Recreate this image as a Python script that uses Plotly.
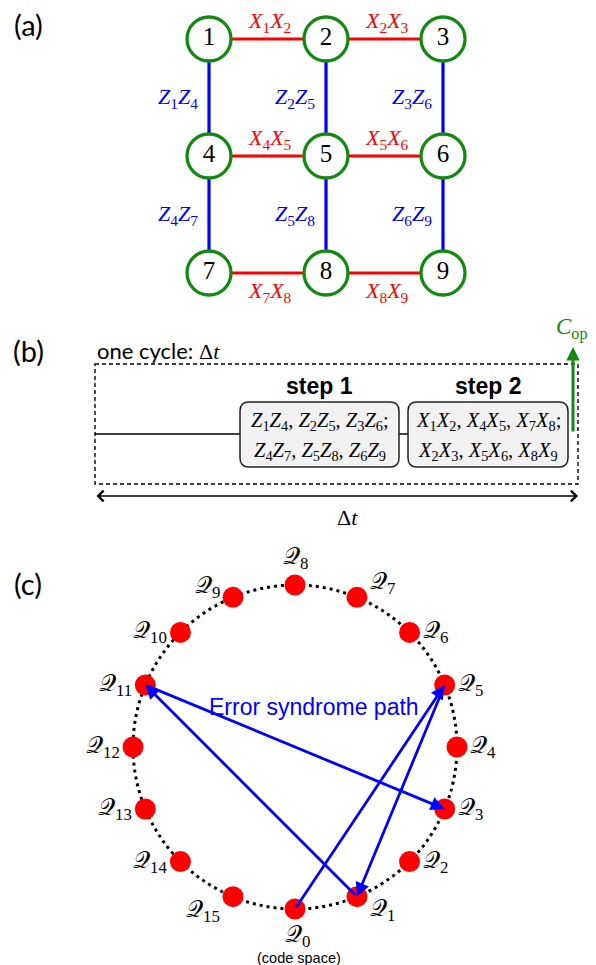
import math
import plotly.graph_objects as go

# ---------------- data ----------------
node_ids = [1, 2, 3, 4, 5, 6, 7, 8, 9]
node_rows = [0, 0, 0, 1, 1, 1, 2, 2, 2]
node_cols = [0, 1, 2, 0, 1, 2, 0, 1, 2]
x_edges = [(1, 2), (2, 3), (4, 5), (5, 6), (7, 8), (8, 9)]
z_edges = [(1, 4), (2, 5), (3, 6), (4, 7), (5, 8), (6, 9)]
step_titles = ["step 1", "step 2"]
step1_ops = [[("Z", 1, 4), ("Z", 2, 5), ("Z", 3, 6)], [("Z", 4, 7), ("Z", 5, 8), ("Z", 6, 9)]]
step2_ops = [[("X", 1, 2), ("X", 4, 5), ("X", 7, 8)], [("X", 2, 3), ("X", 5, 6), ("X", 8, 9)]]
q_states = list(range(16))
syndrome_path = [0, 5, 1, 11, 3]

# ---------------- layout constants ----------------
W, H = 596, 965
RED, BLUE, GREEN = "#ff0000", "#0000ff", "#128a12"
SERIF = "Liberation Serif"
SANS = "Liberation Sans"
CAL = "Lato"
col_x = [209, 326, 443]
row_y = [39, 156, 273]

fig = go.Figure()
shapes = []
ann = []


def op(p, a, b):
    return f"<i>{p}</i><sub>{a}</sub><i>{p}</i><sub>{b}</sub>"


def pos(n):
    i = node_ids.index(n)
    return col_x[node_cols[i]], row_y[node_rows[i]]


def text(x, y, t, size, color="black", family=SERIF, xa="center", ya="middle"):
    ann.append(dict(x=x, y=y, xref="x", yref="y", text=t, showarrow=False,
                    xanchor=xa, yanchor=ya, font=dict(size=size, color=color, family=family)))


# ---------------- panel (a) ----------------
text(28, 24, "(a)", 29, family=CAL)
for a, b in x_edges:
    (x0, y0), (x1, y1) = pos(a), pos(b)
    fig.add_trace(go.Scatter(x=[x0, x1], y=[y0, y1], mode="lines",
                             line=dict(color=RED, width=3.2), hoverinfo="skip"))
    r = node_rows[node_ids.index(a)]
    dy = 19 if r == 2 else -17
    text((x0 + x1) / 2 + 2, y0 + dy, op("X", a, b), 22, RED)
for a, b in z_edges:
    (x0, y0), (x1, y1) = pos(a), pos(b)
    fig.add_trace(go.Scatter(x=[x0, x1], y=[y0, y1], mode="lines",
                             line=dict(color=BLUE, width=3.2), hoverinfo="skip"))
    text(x0 - 9, (y0 + y1) / 2, op("Z", a, b), 22, BLUE, xa="right")
fig.add_trace(go.Scatter(
    x=[col_x[c] for c in node_cols], y=[row_y[r] for r in node_rows],
    mode="markers+text", text=[str(n) for n in node_ids], textposition="middle center",
    textfont=dict(family=SERIF, size=25, color="black"),
    marker=dict(size=44, color="white", line=dict(color=GREEN, width=3.3)),
    hoverinfo="skip"))

# ---------------- panel (b) ----------------
text(28, 350, "(b)", 29, family=CAL)
bx0, bx1, by0, by1 = 95, 578, 364, 484
wire_y = 434
step_boxes = [(240, 399), (408, 568)]
sy0, sy1, rr = 402, 467, 9
text(95, 350, f'one cycle: <span style="font-family:{SERIF}">Δ<i>t</i></span>', 22,
     family=CAL, xa="left")
shapes.append(dict(type="rect", xref="x", yref="y", x0=bx0, x1=bx1, y0=by0, y1=by1,
                   line=dict(color="black", width=1.4, dash="4px,3px"), layer="below"))
shapes.append(dict(type="line", xref="x", yref="y", x0=bx0, x1=step_boxes[0][0],
                   y0=wire_y, y1=wire_y, line=dict(color="black", width=1.5), layer="below"))
shapes.append(dict(type="line", xref="x", yref="y", x0=step_boxes[0][1], x1=step_boxes[1][0],
                   y0=wire_y, y1=wire_y, line=dict(color="black", width=1.5), layer="below"))


def rounded(x0, y0, x1, y1, r):
    return (f"M{x0 + r},{y0} L{x1 - r},{y0} Q{x1},{y0} {x1},{y0 + r} L{x1},{y1 - r} "
            f"Q{x1},{y1} {x1 - r},{y1} L{x0 + r},{y1} Q{x0},{y1} {x0},{y1 - r} "
            f"L{x0},{y0 + r} Q{x0},{y0} {x0 + r},{y0} Z")


for (x0, x1), title, ops in zip(step_boxes, step_titles, [step1_ops, step2_ops]):
    shapes.append(dict(type="path", xref="x", yref="y", path=rounded(x0, sy0, x1, sy1, rr),
                       fillcolor="#f2f2f2", line=dict(color="#222222", width=1.5), layer="below"))
    cx = (x0 + x1) / 2
    text(cx, 386, f"<b>{title}</b>", 23, family=SANS)
    for li, line in enumerate(ops):
        s = ", ".join(op(*o) for o in line) + (";" if li == 0 else "")
        text(cx, 421 + li * 30, s, 20.5)

# green C_op arrow
ann.append(dict(x=573, y=347, ax=573, ay=433, xref="x", yref="y", axref="x", ayref="y",
                text="", showarrow=True, arrowhead=2, arrowsize=0.9, arrowwidth=3,
                arrowcolor=GREEN, standoff=0, startstandoff=0))
text(571, 328, "<i>C</i><sub>op</sub>", 23, GREEN)

# delta t double arrow
ann.append(dict(x=578, y=496, ax=95, ay=496, xref="x", yref="y", axref="x", ayref="y",
                text="", showarrow=True, arrowhead=4, arrowsize=1.4, arrowwidth=1.5,
                arrowside="end+start", startarrowhead=4, startarrowsize=1.4,
                arrowcolor="black", standoff=0, startstandoff=0))
text(347, 517, "Δ<i>t</i>", 22)

# ---------------- panel (c) ----------------
text(28, 583, "(c)", 29, family=CAL)
ccx, ccy, R = 295, 747, 162
shapes.append(dict(type="circle", xref="x", yref="y", x0=ccx - R, x1=ccx + R, y0=ccy - R,
                   y1=ccy + R, line=dict(color="black", width=3, dash="3px,4px"), layer="below"))
qx = [ccx + R * math.sin(math.radians(22.5 * k)) for k in q_states]
qy = [ccy + R * math.cos(math.radians(22.5 * k)) for k in q_states]
fig.add_trace(go.Scatter(x=qx, y=qy, mode="markers",
                         marker=dict(size=21, color=RED), hoverinfo="skip"))
for k in q_states:
    t = f"𝒬<sub>{k}</sub>"
    x, y = qx[k], qy[k]
    if k == 0:
        text(x + 2, y + 10, t, 24, ya="top")
    elif k == 8:
        text(x, y - 10, t, 24, ya="bottom")
    else:
        dy = {1: 13, 7: -14, 9: -10, 15: 14}.get(k, 0)
        if k < 8:
            text(x + 11, y + dy, t, 24, xa="left")
        else:
            text(x - 11, y + dy, t, 24, xa="right")
text(qx[0] + 4, 957.5, "(code space)", 14.5, family=SANS)

for a, b in zip(syndrome_path[:-1], syndrome_path[1:]):
    ann.append(dict(x=qx[b], y=qy[b], ax=qx[a], ay=qy[a], xref="x", yref="y",
                    axref="x", ayref="y", text="", showarrow=True, arrowhead=2,
                    arrowsize=1.0, arrowwidth=2.8, arrowcolor=BLUE,
                    standoff=0, startstandoff=0))
text(314, 707, "Error syndrome path", 23, BLUE, family=SANS)

fig.update_layout(
    width=W, height=H, margin=dict(l=0, r=0, t=0, b=0),
    paper_bgcolor="white", plot_bgcolor="white", showlegend=False,
    xaxis=dict(range=[0, W], visible=False, fixedrange=True),
    yaxis=dict(range=[H, 0], visible=False, fixedrange=True),
    shapes=shapes, annotations=ann,
)
fig.write_html("out.html", config={"displayModeBar": False},
               post_script="document.body.style.margin='0';")
